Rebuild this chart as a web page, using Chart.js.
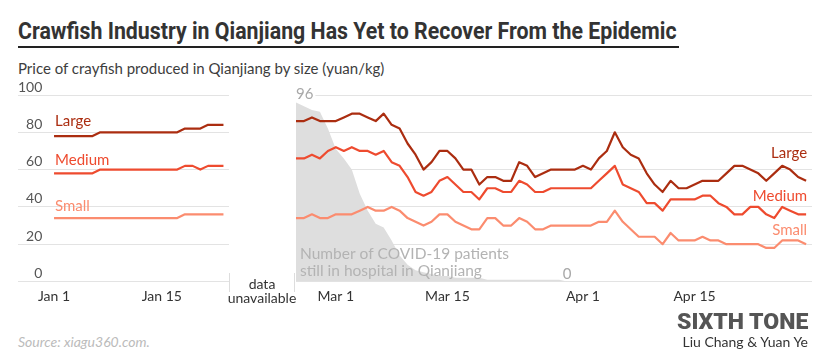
<!DOCTYPE html>
<html>
<head>
<meta charset="utf-8">
<title>Crawfish prices in Qianjiang</title>
<script src="https://cdn.jsdelivr.net/npm/chart.js@4.4.1/dist/chart.umd.min.js"></script>
<style>
  body { margin: 0; background: #fff; font-family: Lato, sans-serif; }
  #page { position: relative; width: 830px; height: 361px; overflow: hidden; }
  #page > * { position: absolute; white-space: nowrap; margin: 0; }
  #title { left: 18px; top: 20px; font: 700 23px/23px Roboto, sans-serif; color: #333; transform-origin: 0 0; }
  #rule { left: 18px; top: 46px; width: 661px; height: 2px; background: #222; }
  #subtitle { left: 18px; top: 59px; font-size: 15px; line-height: 1.2; color: #3d3d3d; }
  #leftChart { left: 0; top: 80px; }
  #rightChart { left: 296px; top: 80px; }
  #gap { left: 229px; top: 273px; width: 64px; height: 19px; border-left: 1px solid #ddd; border-right: 1px solid #ddd; }
  #gapText { left: 222px; width: 80px; top: 277px; text-align: center; font-size: 14px; line-height: 14px; color: #333; }
  #source { left: 18px; top: 334px; font-size: 14px; line-height: 1.2; font-style: italic; color: #bbb; }
  #brand { right: 22px; top: 311px; font: 900 22px/22px Roboto, sans-serif; color: #555; transform-origin: 100% 0; }
  #byline { right: 22px; top: 334px; font-size: 14px; line-height: 1.2; color: #333; }
</style>
</head>
<body>
<div id="page">
  <h1 id="title">Crawfish Industry in Qianjiang Has Yet to Recover From the Epidemic</h1>
  <div id="rule"></div>
  <div id="subtitle">Price of crayfish produced in Qianjiang by size (yuan/kg)</div>
  <canvas id="leftChart" width="230" height="240"></canvas>
  <canvas id="rightChart" width="516" height="240"></canvas>
  <div id="gap"></div>
  <div id="gapText">data<br>unavailable</div>
  <div id="source">Source: xiagu360.com.</div>
  <div id="brand">SIXTH TONE</div>
  <div id="byline">Liu Chang &amp; Yuan Ye</div>
</div>
<script>
// x values are days counted from Jan 1 2020 (leap year, so Feb 25 = day 55)
const janStart = 0;
const springStart = 55;

const sizes = ['Large', 'Medium', 'Small'];
const sizeColors = ['#ab2d10', '#ee4b2f', '#fb8c6f'];

// Jan 1 - Jan 23, yuan/kg
const janLarge  = [78, 78, 78, 78, 78, 78, 80, 80, 80, 80, 80, 80, 80, 80, 80, 80, 80, 82, 82, 82, 84, 84, 84];
const janMedium = [58, 58, 58, 58, 58, 58, 60, 60, 60, 60, 60, 60, 60, 60, 60, 60, 60, 62, 62, 60, 62, 62, 62];
const janSmall  = [34, 34, 34, 34, 34, 34, 34, 34, 34, 34, 34, 34, 34, 34, 34, 34, 34, 36, 36, 36, 36, 36, 36];

// Feb 25 - Apr 29, yuan/kg
const springLarge = [86, 86, 88, 86, 86, 86, 88, 90, 90, 88, 86, 90, 84, 82, 74, 68, 60,
  64, 70, 70, 66, 60, 60, 52, 56, 56, 54, 54, 64, 62, 56, 58, 60,
  60, 60, 60, 62, 60, 66, 70, 80, 72, 68, 66, 58, 52, 48, 54, 50, 50,
  52, 54, 54, 54, 58, 62, 62, 60, 58, 54, 58, 62, 60, 56, 54];
const springMedium = [66, 66, 68, 66, 70, 72, 70, 72, 70, 70, 68, 70, 64, 62, 56, 48, 46,
  48, 54, 56, 52, 48, 48, 44, 50, 50, 48, 48, 54, 52, 48, 48, 50,
  50, 50, 50, 50, 50, 54, 58, 62, 52, 50, 48, 42, 42, 38, 44, 44, 44,
  44, 46, 46, 42, 40, 36, 36, 40, 40, 36, 34, 40, 38, 36, 36];
const springSmall = [34, 34, 36, 34, 34, 36, 36, 36, 38, 40, 38, 38, 40, 38, 34, 32, 30,
  32, 36, 36, 32, 30, 28, 28, 34, 34, 30, 30, 34, 32, 28, 28, 30,
  30, 30, 30, 30, 30, 32, 32, 38, 32, 28, 24, 24, 24, 20, 26, 22, 22,
  22, 24, 22, 22, 20, 20, 20, 20, 20, 18, 18, 22, 22, 22, 20];

// COVID-19 patients still in hospital, Feb 25 - Apr 29
const patients = [96, 94, 92, 91, 82, 71, 66, 60, 47, 38, 31, 29, 22,
  14, 9, 6, 5, 4, 3, 3, 2, 2, 2, 2,
  1, 1, 1, 1, 1, 1, 1, 1, 1, 1,
  0, 0, 0, 0, 0, 0, 0, 0, 0, 0, 0, 0, 0, 0, 0, 0, 0, 0, 0, 0, 0, 0, 0, 0, 0, 0, 0, 0, 0, 0, 0];

const leftTickDays = [0, 14];
const leftTickLabels = ['Jan 1', 'Jan 15'];
const rightTickDays = [60, 74, 91, 105];
const rightTickLabels = ['Mar 1', 'Mar 15', 'Apr 1', 'Apr 15'];

Chart.defaults.font.family = 'Lato, sans-serif';

function toPoints(values, start) {
  return values.map((v, i) => ({ x: start + i, y: v }));
}

// writes the size name next to the first or last point of a line
const seriesLabels = {
  id: 'seriesLabels',
  afterDatasetsDraw(chart) {
    const ctx = chart.ctx;
    ctx.save();
    ctx.font = '15px Lato, sans-serif';
    ctx.textBaseline = 'alphabetic';
    chart.data.datasets.forEach((ds, i) => {
      if (!ds.tag) return;
      const pts = chart.getDatasetMeta(i).data;
      const atEnd = ds.tag.at === 'end';
      const p = atEnd ? pts[pts.length - 1] : pts[0];
      ctx.fillStyle = ds.borderColor;
      ctx.textAlign = atEnd ? 'right' : 'left';
      ctx.fillText(ds.label, p.x + 1, p.y - ds.tag.dy);
    });
    ctx.restore();
  }
};

// notes for the grey patients area: peak, first zero, and the caption
const patientNotes = {
  id: 'patientNotes',
  afterDatasetsDraw(chart) {
    const idx = chart.data.datasets.findIndex(ds => ds.label === 'Patients');
    const pts = chart.getDatasetMeta(idx).data;
    const peak = Math.max(...patients);
    const peakPt = pts[patients.indexOf(peak)];
    const zeroPt = pts[patients.indexOf(0)];
    const area = chart.chartArea;
    const ctx = chart.ctx;
    ctx.save();
    ctx.font = '15px Lato, sans-serif';
    ctx.textBaseline = 'middle';
    ctx.textAlign = 'left';
    const w = ctx.measureText(String(peak)).width;
    ctx.fillStyle = '#fff';
    ctx.fillRect(peakPt.x - 1, peakPt.y - 15, w + 3, 13);
    ctx.fillStyle = '#a8a8a8';
    ctx.fillText(String(peak), peakPt.x, peakPt.y - 8);
    ctx.textAlign = 'center';
    ctx.textBaseline = 'alphabetic';
    ctx.fillText('0', zeroPt.x, zeroPt.y - 3);
    ctx.textAlign = 'left';
    ctx.fillStyle = '#b3b3b3';
    ctx.font = '15.5px Lato, sans-serif';
    ctx.fillText('Number of COVID-19 patients', area.left + 4, area.bottom - 23);
    ctx.fillText('still in hospital in Qianjiang', area.left + 4, area.bottom - 6);
    ctx.restore();
  }
};

function chartOptions(xMin, xMax, tickDays, tickLabels, showY) {
  return {
    responsive: false,
    animation: false,
    devicePixelRatio: 1,
    layout: { padding: { left: showY ? 18 : 0, right: showY ? 1 : 0, top: 15, bottom: 15.7 } },
    plugins: { legend: { display: false }, tooltip: { enabled: false } },
    elements: {
      point: { radius: 0 },
      line: { borderWidth: 2.2, tension: 0, borderJoinStyle: 'round' }
    },
    scales: {
      x: {
        type: 'linear', min: xMin, max: xMax,
        grid: { display: false, drawTicks: false },
        border: { display: false },
        afterBuildTicks: axis => { axis.ticks = tickDays.map(v => ({ value: v })); },
        afterFit: axis => { axis.height = 22.8; },
        ticks: {
          autoSkip: false, maxRotation: 0, padding: 6.5, color: '#333', font: { size: 14 },
          callback: (v, i) => tickLabels[i]
        }
      },
      y: {
        min: 0, max: 100,
        grid: { color: '#e3e3e3', drawTicks: false },
        border: { display: false },
        ticks: {
          stepSize: 20, display: showY, mirror: true, crossAlign: 'far',
          padding: 0, labelOffset: -8, color: '#555', font: { size: 14 }
        }
      }
    }
  };
}

const janSeries = [janLarge, janMedium, janSmall];
const janTagDy = [10, 8, 7];
new Chart(document.getElementById('leftChart'), {
  type: 'line',
  data: {
    datasets: sizes.map((name, k) => ({
      label: name,
      data: toPoints(janSeries[k], janStart),
      borderColor: sizeColors[k],
      tag: { at: 'start', dy: janTagDy[k] }
    }))
  },
  options: chartOptions(-4.68, 22.72, leftTickDays, leftTickLabels, true),
  plugins: [seriesLabels]
});

const springSeries = [springLarge, springMedium, springSmall];
const springTagDy = [23, 13.5, 9];
new Chart(document.getElementById('rightChart'), {
  type: 'line',
  data: {
    datasets: sizes.map((name, k) => ({
      label: name,
      data: toPoints(springSeries[k], springStart),
      borderColor: sizeColors[k],
      order: 0,
      tag: { at: 'end', dy: springTagDy[k] }
    })).concat([{
      label: 'Patients',
      data: toPoints(patients, springStart),
      borderColor: 'rgba(0,0,0,0)',
      backgroundColor: '#dedede',
      fill: 'origin',
      order: 1
    }])
  },
  options: chartOptions(springStart, springStart + 64.74, rightTickDays, rightTickLabels, false),
  plugins: [seriesLabels, patientNotes]
});

// squeeze the condensed-looking headings to the reference widths
const title = document.getElementById('title');
title.style.transform = 'scaleX(' + (659 / title.offsetWidth) + ')';
const brand = document.getElementById('brand');
brand.style.transform = 'scaleX(' + (131 / brand.offsetWidth) + ')';
</script>
</body>
</html>
